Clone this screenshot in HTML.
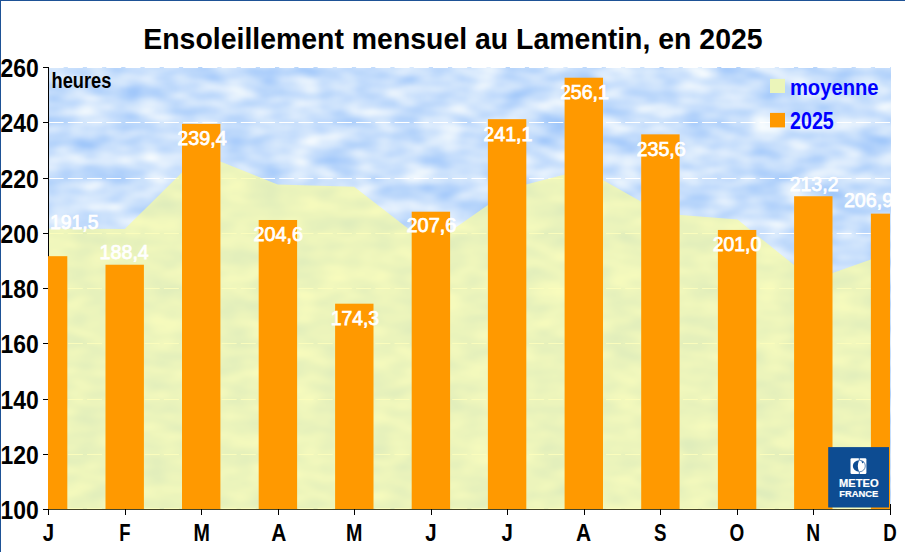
<!DOCTYPE html><html><head><meta charset="utf-8"><style>
html,body{margin:0;padding:0;background:#fff;}
svg{display:block;}
text{font-family:"Liberation Sans",Arial,sans-serif;font-weight:bold;}
</style></head><body>
<svg width="905" height="552" viewBox="0 0 905 552">
<defs>
<filter id="cl" x="0" y="0" width="100%" height="100%" color-interpolation-filters="sRGB">
<feTurbulence type="fractalNoise" baseFrequency="0.028 0.06" numOctaves="2" seed="3" result="n"/>
<feColorMatrix in="n" type="matrix" values="0.451 0 0 0 0.5706  0.2745 0 0 0 0.7451  0.0196 0 0 0 0.9784  0 0 0 0 1" result="c"/>
<feGaussianBlur in="c" stdDeviation="1.0"/>
</filter>
<clipPath id="pc"><rect x="49.0" y="66.0" width="842.0" height="443.0"/></clipPath>
<clipPath id="sky"><rect x="49" y="67" width="842" height="442"/></clipPath>
<clipPath id="pc2"><rect x="48" y="60" width="842" height="460"/></clipPath>
</defs>
<rect x="0" y="0" width="905" height="552" fill="#fff"/>

<g clip-path="url(#sky)"><rect x="39.0" y="57.0" width="862.0" height="462.0" filter="url(#cl)"/></g>
<line x1="48.6" x2="891.0" y1="508.50" y2="508.50" stroke="#fff" stroke-width="1" stroke-dasharray="15.0 4.22"/>
<line x1="48.6" x2="891.0" y1="454.50" y2="454.50" stroke="#fff" stroke-width="1" stroke-dasharray="15.0 4.22"/>
<line x1="48.6" x2="891.0" y1="399.50" y2="399.50" stroke="#fff" stroke-width="1" stroke-dasharray="15.0 4.22"/>
<line x1="48.6" x2="891.0" y1="343.50" y2="343.50" stroke="#fff" stroke-width="1" stroke-dasharray="15.0 4.22"/>
<line x1="48.6" x2="891.0" y1="288.50" y2="288.50" stroke="#fff" stroke-width="1" stroke-dasharray="15.0 4.22"/>
<line x1="48.6" x2="891.0" y1="233.50" y2="233.50" stroke="#fff" stroke-width="1" stroke-dasharray="15.0 4.22"/>
<line x1="48.6" x2="891.0" y1="178.50" y2="178.50" stroke="#fff" stroke-width="1" stroke-dasharray="15.0 4.22"/>
<line x1="48.6" x2="891.0" y1="122.50" y2="122.50" stroke="#fff" stroke-width="1" stroke-dasharray="15.0 4.22"/>
<line x1="48.6" x2="891.0" y1="67.50" y2="67.50" stroke="#fff" stroke-width="1" stroke-dasharray="15.0 4.22"/>
<g clip-path="url(#pc)"><polygon points="48.4,509.0 48.4,228.5 124.8,229.0 200.9,153.7 277.7,184.5 354.1,186.7 430.1,245.5 512.4,187.9 584.3,169.5 662.1,213.5 737.5,219.6 812.8,280.1 889.3,253.0 889.3,509.0" fill="#fafca0" fill-opacity="0.7"/></g>
<line x1="48.5" x2="48.5" y1="67" y2="509.5" stroke="#000" stroke-width="1"/>
<line x1="43" x2="48.5" y1="509.50" y2="509.50" stroke="#000" stroke-width="1"/>
<line x1="43" x2="48.5" y1="454.50" y2="454.50" stroke="#000" stroke-width="1"/>
<line x1="43" x2="48.5" y1="399.50" y2="399.50" stroke="#000" stroke-width="1"/>
<line x1="43" x2="48.5" y1="343.50" y2="343.50" stroke="#000" stroke-width="1"/>
<line x1="43" x2="48.5" y1="288.50" y2="288.50" stroke="#000" stroke-width="1"/>
<line x1="43" x2="48.5" y1="233.50" y2="233.50" stroke="#000" stroke-width="1"/>
<line x1="43" x2="48.5" y1="178.50" y2="178.50" stroke="#000" stroke-width="1"/>
<line x1="43" x2="48.5" y1="122.50" y2="122.50" stroke="#000" stroke-width="1"/>
<line x1="43" x2="48.5" y1="67.50" y2="67.50" stroke="#000" stroke-width="1"/>
<g clip-path="url(#pc2)">
<rect x="28.9" y="256.18" width="38.4" height="252.82" fill="#ff9900"/>
<rect x="105.5" y="264.74" width="38.4" height="244.26" fill="#ff9900"/>
<rect x="182.0" y="123.86" width="38.4" height="385.14" fill="#ff9900"/>
<rect x="258.7" y="219.99" width="38.4" height="289.01" fill="#ff9900"/>
<rect x="335.1" y="303.70" width="38.4" height="205.30" fill="#ff9900"/>
<rect x="411.7" y="211.71" width="38.4" height="297.29" fill="#ff9900"/>
<rect x="487.9" y="119.16" width="38.4" height="389.84" fill="#ff9900"/>
<rect x="564.6" y="77.72" width="38.4" height="431.28" fill="#ff9900"/>
<rect x="641.2" y="134.36" width="38.4" height="374.64" fill="#ff9900"/>
<rect x="717.9" y="229.94" width="38.4" height="279.06" fill="#ff9900"/>
<rect x="794.1" y="196.24" width="38.4" height="312.76" fill="#ff9900"/>
<rect x="870.9" y="213.64" width="38.4" height="295.36" fill="#ff9900"/>
</g>
<line x1="48" x2="890.5" y1="509.5" y2="509.5" stroke="#454528" stroke-width="1"/>
<line x1="48.5" x2="48.5" y1="509" y2="515" stroke="#000" stroke-width="1"/>
<line x1="125.5" x2="125.5" y1="509" y2="515" stroke="#000" stroke-width="1"/>
<line x1="201.5" x2="201.5" y1="509" y2="515" stroke="#000" stroke-width="1"/>
<line x1="278.5" x2="278.5" y1="509" y2="515" stroke="#000" stroke-width="1"/>
<line x1="354.5" x2="354.5" y1="509" y2="515" stroke="#000" stroke-width="1"/>
<line x1="431.5" x2="431.5" y1="509" y2="515" stroke="#000" stroke-width="1"/>
<line x1="507.5" x2="507.5" y1="509" y2="515" stroke="#000" stroke-width="1"/>
<line x1="584.5" x2="584.5" y1="509" y2="515" stroke="#000" stroke-width="1"/>
<line x1="660.5" x2="660.5" y1="509" y2="515" stroke="#000" stroke-width="1"/>
<line x1="737.5" x2="737.5" y1="509" y2="515" stroke="#000" stroke-width="1"/>
<line x1="813.5" x2="813.5" y1="509" y2="515" stroke="#000" stroke-width="1"/>
<line x1="890.5" x2="890.5" y1="509" y2="515" stroke="#000" stroke-width="1"/>
<line x1="890.5" x2="890.5" y1="504" y2="515" stroke="#000" stroke-width="1"/>
<g clip-path="url(#pc)">
<text x="50.00" y="229.10" font-size="19.3" fill="#fff" stroke="#fff" stroke-width="0.75" style="font-weight:normal" textLength="48.50" lengthAdjust="spacingAndGlyphs">191,5</text>
<text x="99.60" y="258.90" font-size="19.3" fill="#fff" stroke="#fff" stroke-width="0.75" style="font-weight:normal" textLength="49.20" lengthAdjust="spacingAndGlyphs">188,4</text>
<text x="177.30" y="145.00" font-size="19.3" fill="#fff" stroke="#fff" stroke-width="0.75" style="font-weight:normal" textLength="49.50" lengthAdjust="spacingAndGlyphs">239,4</text>
<text x="253.50" y="241.00" font-size="19.3" fill="#fff" stroke="#fff" stroke-width="0.75" style="font-weight:normal" textLength="49.60" lengthAdjust="spacingAndGlyphs">204,6</text>
<text x="330.80" y="325.00" font-size="19.3" fill="#fff" stroke="#fff" stroke-width="0.75" style="font-weight:normal" textLength="48.30" lengthAdjust="spacingAndGlyphs">174,3</text>
<text x="406.50" y="232.40" font-size="19.3" fill="#fff" stroke="#fff" stroke-width="0.75" style="font-weight:normal" textLength="49.80" lengthAdjust="spacingAndGlyphs">207,6</text>
<text x="483.30" y="140.90" font-size="19.3" fill="#fff" stroke="#fff" stroke-width="0.75" style="font-weight:normal" textLength="49.20" lengthAdjust="spacingAndGlyphs">241,1</text>
<text x="559.90" y="98.90" font-size="19.3" fill="#fff" stroke="#fff" stroke-width="0.75" style="font-weight:normal" textLength="49.00" lengthAdjust="spacingAndGlyphs">256,1</text>
<text x="636.50" y="155.80" font-size="19.3" fill="#fff" stroke="#fff" stroke-width="0.75" style="font-weight:normal" textLength="49.30" lengthAdjust="spacingAndGlyphs">235,6</text>
<text x="712.70" y="250.90" font-size="19.3" fill="#fff" stroke="#fff" stroke-width="0.75" style="font-weight:normal" textLength="48.50" lengthAdjust="spacingAndGlyphs">201,0</text>
<text x="789.70" y="190.70" font-size="19.3" fill="#fff" stroke="#fff" stroke-width="0.75" style="font-weight:normal" textLength="48.80" lengthAdjust="spacingAndGlyphs">213,2</text>
<text x="843.90" y="207.20" font-size="19.3" fill="#fff" stroke="#fff" stroke-width="0.75" style="font-weight:normal" textLength="49.20" lengthAdjust="spacingAndGlyphs">206,9</text>
</g>
<text x="38.8" y="518.7" font-size="26.5" text-anchor="end" textLength="38.2" lengthAdjust="spacingAndGlyphs">100</text>
<text x="38.8" y="463.7" font-size="26.5" text-anchor="end" textLength="38.2" lengthAdjust="spacingAndGlyphs">120</text>
<text x="38.8" y="408.7" font-size="26.5" text-anchor="end" textLength="38.2" lengthAdjust="spacingAndGlyphs">140</text>
<text x="38.8" y="352.7" font-size="26.5" text-anchor="end" textLength="38.2" lengthAdjust="spacingAndGlyphs">160</text>
<text x="38.8" y="297.7" font-size="26.5" text-anchor="end" textLength="38.2" lengthAdjust="spacingAndGlyphs">180</text>
<text x="38.8" y="242.7" font-size="26.5" text-anchor="end" textLength="38.2" lengthAdjust="spacingAndGlyphs">200</text>
<text x="38.8" y="187.7" font-size="26.5" text-anchor="end" textLength="38.2" lengthAdjust="spacingAndGlyphs">220</text>
<text x="38.8" y="131.7" font-size="26.5" text-anchor="end" textLength="38.2" lengthAdjust="spacingAndGlyphs">240</text>
<text x="38.8" y="76.7" font-size="26.5" text-anchor="end" textLength="38.2" lengthAdjust="spacingAndGlyphs">260</text>
<text x="58.31" y="540.8" font-size="24.6" text-anchor="middle" transform="scale(0.83 1)">J</text>
<text x="166.40" y="540.8" font-size="24.6" text-anchor="middle" transform="scale(0.75 1)">F</text>
<text x="252.00" y="540.8" font-size="24.6" text-anchor="middle" transform="scale(0.80 1)">M</text>
<text x="327.88" y="540.8" font-size="24.6" text-anchor="middle" transform="scale(0.85 1)">A</text>
<text x="442.75" y="540.8" font-size="24.6" text-anchor="middle" transform="scale(0.80 1)">M</text>
<text x="519.16" y="540.8" font-size="24.6" text-anchor="middle" transform="scale(0.83 1)">J</text>
<text x="611.08" y="540.8" font-size="24.6" text-anchor="middle" transform="scale(0.83 1)">J</text>
<text x="686.59" y="540.8" font-size="24.6" text-anchor="middle" transform="scale(0.85 1)">A</text>
<text x="868.82" y="540.8" font-size="24.6" text-anchor="middle" transform="scale(0.76 1)">S</text>
<text x="957.14" y="540.8" font-size="24.6" text-anchor="middle" transform="scale(0.77 1)">O</text>
<text x="1042.69" y="540.8" font-size="24.6" text-anchor="middle" transform="scale(0.78 1)">N</text>
<text x="1170.92" y="540.8" font-size="24.6" text-anchor="middle" transform="scale(0.76 1)">D</text>
<text x="143.3" y="48.7" font-size="30.1" textLength="619.3" lengthAdjust="spacingAndGlyphs">Ensoleillement mensuel au Lamentin, en 2025</text>
<text x="51.5" y="87.6" font-size="21.5" textLength="59.8" lengthAdjust="spacingAndGlyphs">heures</text>
<rect x="770" y="78.9" width="15" height="14.1" fill="#ebf5ba"/>
<rect x="770" y="112.9" width="15" height="14.5" fill="#ff9900"/>
<text x="789.9" y="95.1" font-size="22" fill="#0000ff" textLength="88.7" lengthAdjust="spacingAndGlyphs">moyenne</text>
<text x="790.05" y="128.9" font-size="23.2" fill="#0000ff" textLength="43.75" lengthAdjust="spacingAndGlyphs">2025</text>
<rect x="828.2" y="447.1" width="60.8" height="60.4" fill="#0d4c92"/>
<rect x="850.5" y="458.2" width="15.9" height="15.7" rx="1.2" fill="#fff"/>
<path d="M859.3 458 V460.6 M859.3 471.4 V474.2" stroke="#0d4c92" stroke-width="0.8"/>
<path d="M859.2 460.2 A6.4 5.8 0 0 0 859.2 471.8 Q856.4 466 859.2 460.2Z" fill="#0d4c92"/>
<path d="M859.8 460.3 A5.5 5.7 0 0 1 859.8 471.7" fill="none" stroke="#0d4c92" stroke-width="0.75" stroke-opacity="0.85"/>
<path d="M861.3 461 L864 461.8 L862.4 463.4Z" fill="#0d4c92"/>
<text x="858.8" y="487.2" font-size="10.2" fill="#fff" stroke="#fff" stroke-width="0.2" text-anchor="middle" textLength="39.6" lengthAdjust="spacingAndGlyphs">METEO</text>
<text x="858.8" y="496.8" font-size="9.9" fill="#fff" stroke="#fff" stroke-width="0.2" text-anchor="middle" textLength="39.2" lengthAdjust="spacingAndGlyphs">FRANCE</text>
<rect x="0" y="0" width="905" height="1" fill="#1e5296"/><rect x="0" y="0" width="1" height="552" fill="#1e5296"/>
</svg></body></html>
